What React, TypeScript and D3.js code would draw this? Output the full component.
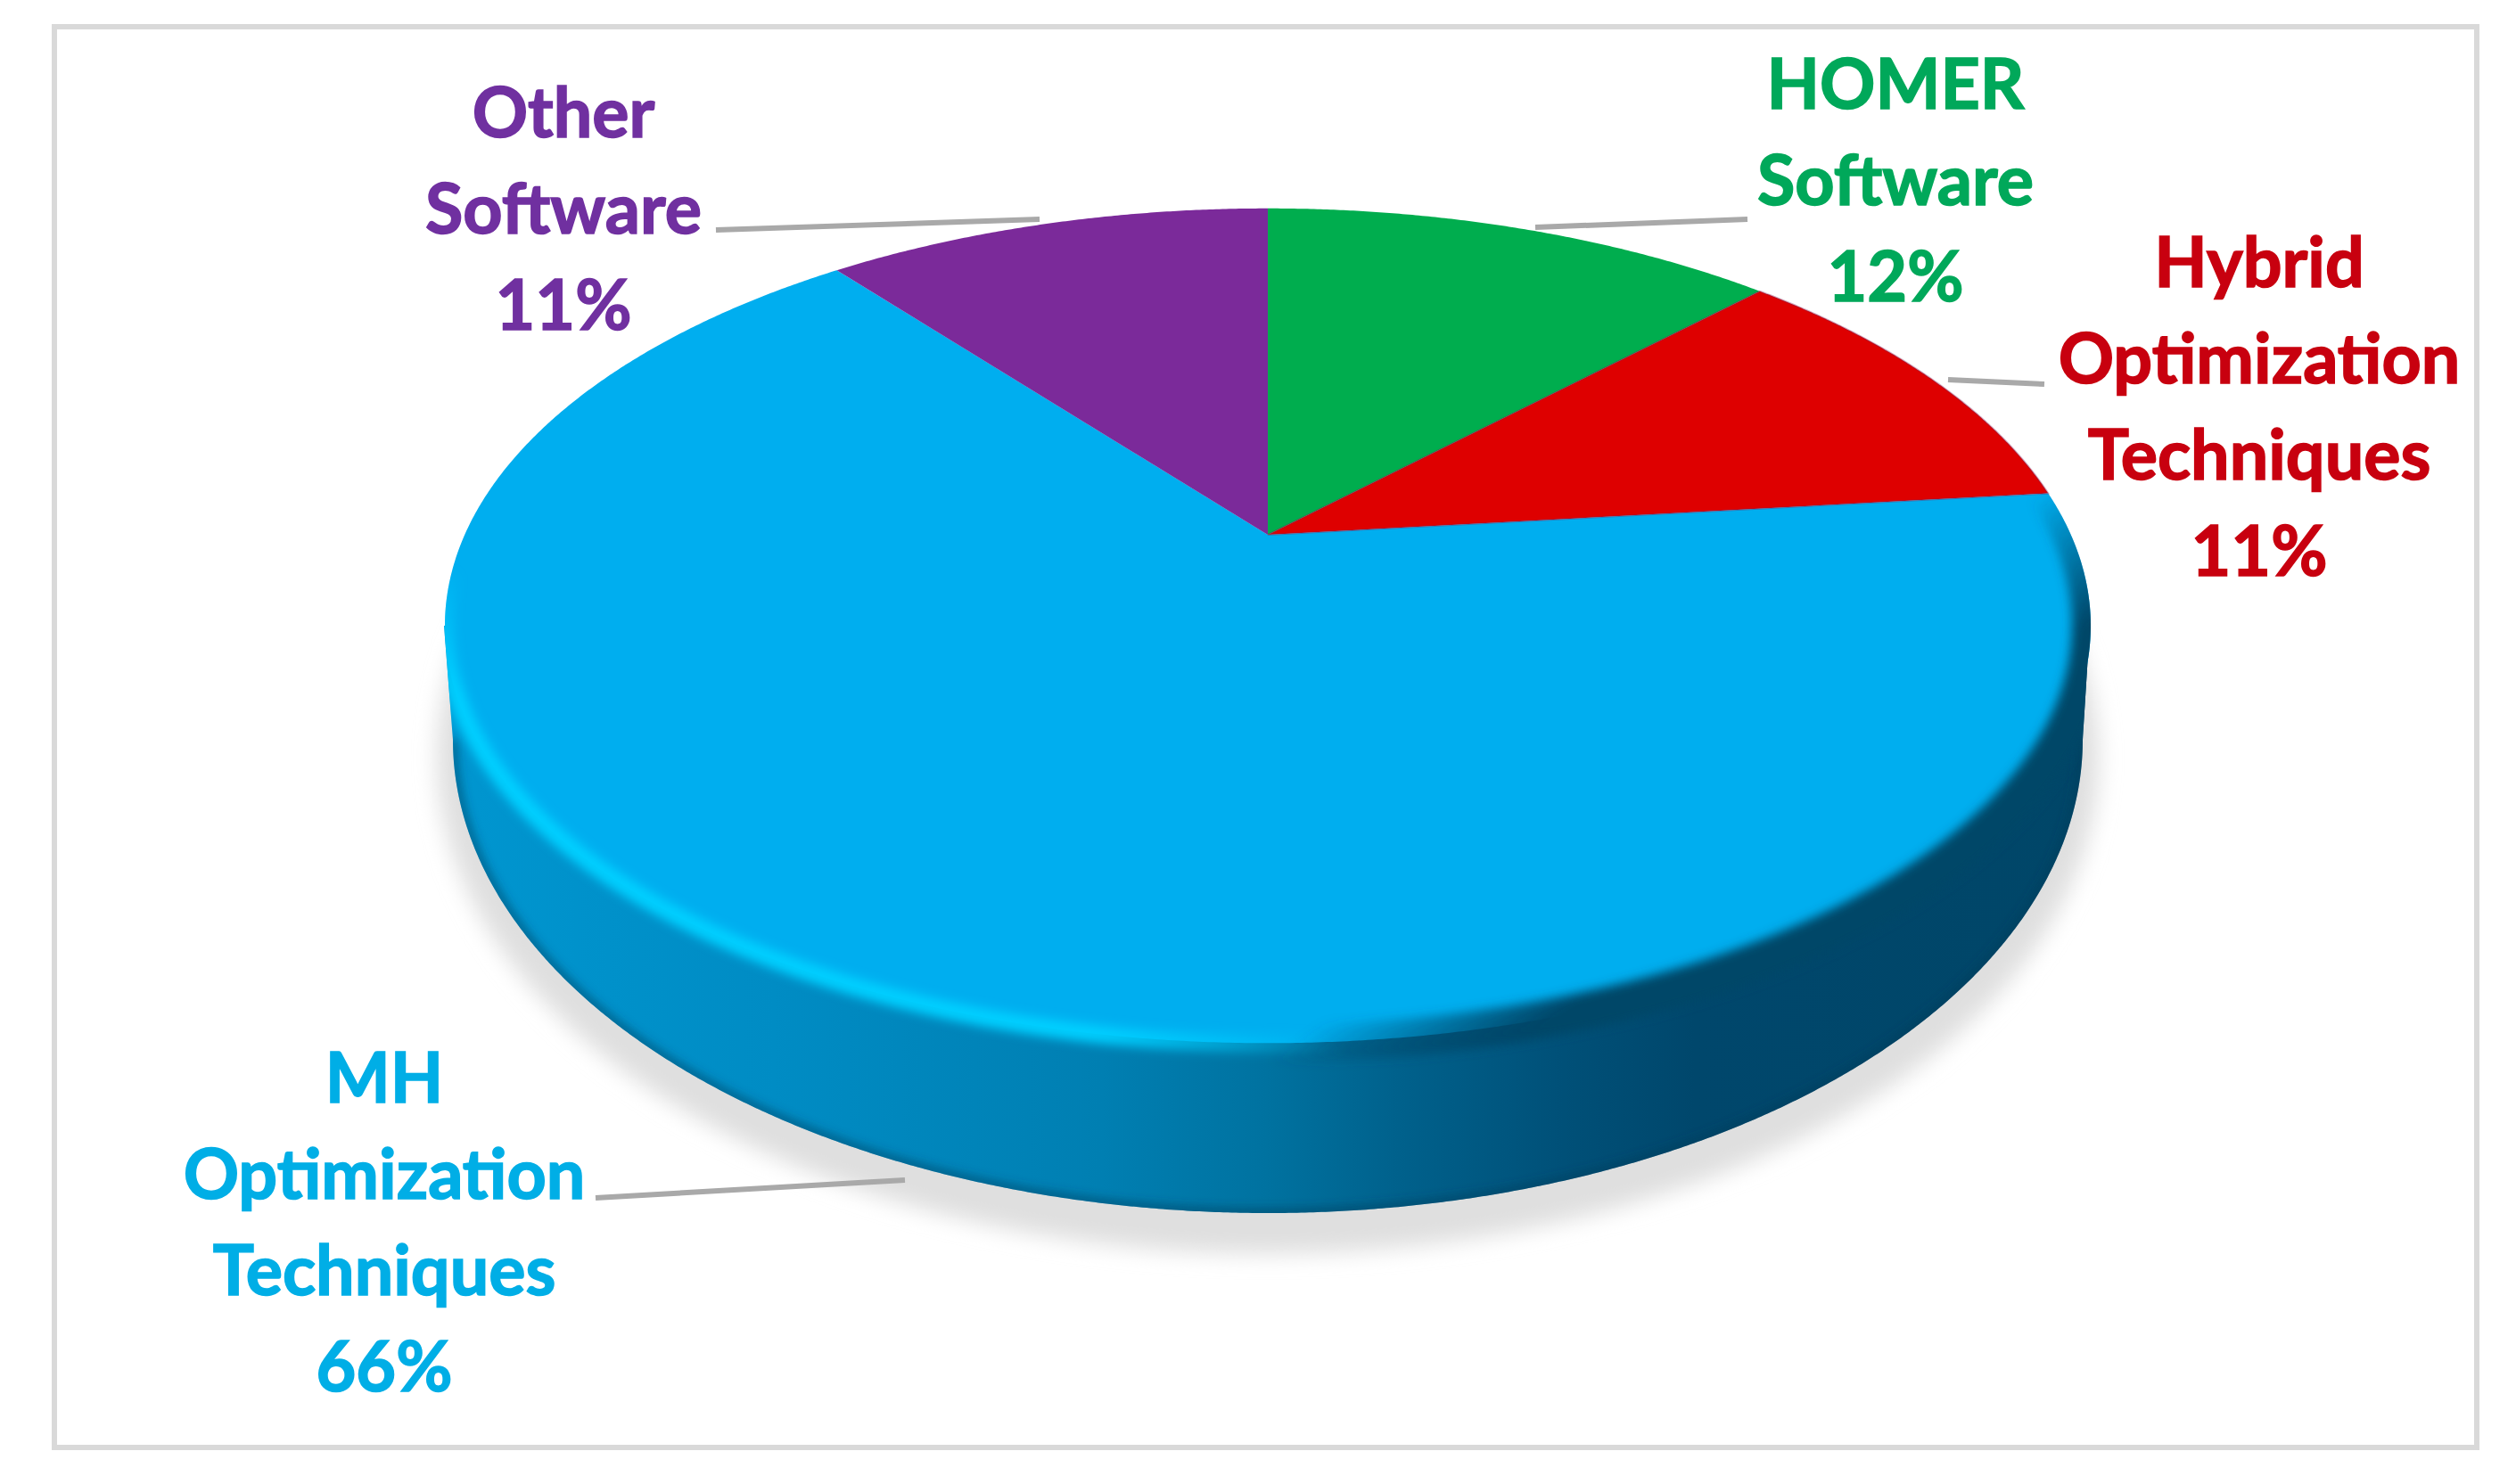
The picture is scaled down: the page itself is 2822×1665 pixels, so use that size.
import React from "react";
import * as d3 from "d3";

// ---- data ----
const categories = ["HOMER Software", "Hybrid Optimization Techniques", "MH Optimization Techniques", "Other Software"];
const shares = [12.5, 10.8, 65.9, 10.8];
const sliceColors = ["#00AD4E", "#DE0000", "#00AEEF", "#7B2A9A"];
const labelColors = ["#00A85A", "#C8000F", "#00AEE6", "#7030A0"];
const labelLines = [
  ["HOMER", "Software", "12%"],
  ["Hybrid", "Optimization", "Techniques", "11%"],
  ["MH", "Optimization", "Techniques", "66%"],
  ["Other", "Software", "11%"],
];

// ---- layout ----
const W = 2822, H = 1665;
const apex = { x: 1422, y: 600 };
const K = 0.218, A = 900.8, B = 446;
const bottom = { cy: 830, rx: 914, ry: 531 };
const labelPos = [
  { x: 2126, y: 122 },
  { x: 2534, y: 322 },
  { x: 431, y: 1237 },
  { x: 632, y: 154 },
];
const lineGap = 108;
const leaders = [
  [[1722, 255], [1960, 246]],
  [[2185, 426], [2293, 431]],
  [[1015, 1324], [668, 1344]],
  [[1166, 246], [803, 258]],
];
const FONT_SIZE = 78, TEXT_SX = 0.99;

const project = (a: number): [number, number] => {
  const u = Math.sin(a), v = Math.cos(a), w = 1 + K * v;
  return [apex.x + (A * u) / w, apex.y - (B * v) / w];
};
const samples = (a0: number, a1: number) => d3.range(a0, a1, 0.005).concat([a1]);
const line = d3.line();

const pie = d3.pie<number>().sort(null).value((d) => d);
const arcs = pie(shares);
const slicePath = (s: number, e: number) =>
  line([[apex.x, apex.y], ...samples(s, e).map(project)])! + "Z";
const rimPath = line(samples(0, 2 * Math.PI).map(project))! + "Z";

const bottomPoint = (t: number): [number, number] => [
  apex.x + bottom.rx * Math.cos(t),
  bottom.cy + bottom.ry * Math.sin(t),
];
const bottomArc = d3.range(0, Math.PI, 0.005).map(bottomPoint).concat([bottomPoint(Math.PI)]);
const bodyPath = line([[2344, 702], ...bottomArc, [498, 702]])! + "Z";
const bottomEdge = line(bottomArc)!;

const sideStops = [
  [0.0, "#0096D0"],
  [0.2, "#008CC4"],
  [0.4, "#007FB2"],
  [0.5, "#0072A0"],
  [0.58, "#00618C"],
  [0.68, "#005078"],
  [0.76, "#00476C"],
  [1, "#004668"],
];

export default function App() {
  return (
    <svg width={W} height={H} viewBox={`0 0 ${W} ${H}`}
      style={{ position: "absolute", left: 0, top: 0, display: "block", background: "#fff" }}>
      <defs>
        <linearGradient id="side" gradientUnits="userSpaceOnUse" x1={498} y1={0} x2={2344} y2={0}>
          {sideStops.map(([o, c]) => <stop key={o as number} offset={o as number} stopColor={c as string} />)}
        </linearGradient>
        <linearGradient id="hi" gradientUnits="userSpaceOnUse" x1={505} y1={636} x2={448} y2={742}>
          <stop offset={0} stopColor="#00CFFF" stopOpacity={0} />
          <stop offset={1} stopColor="#00CFFF" stopOpacity={1} />
        </linearGradient>
        <linearGradient id="dk" gradientUnits="userSpaceOnUse" x1={1450} y1={1170} x2={1539} y2={1291}>
          <stop offset={0} stopColor="#004668" stopOpacity={0} />
          <stop offset={1} stopColor="#004668" stopOpacity={1} />
        </linearGradient>
        <filter id="b4" x="-10%" y="-10%" width="120%" height="120%"><feGaussianBlur stdDeviation={6} /></filter>
        <filter id="b14" x="-10%" y="-10%" width="120%" height="120%"><feGaussianBlur stdDeviation={12} /></filter>
        <clipPath id="bodyClip"><path d={bodyPath} /></clipPath>
        <clipPath id="solidClip"><path d={bodyPath} /><path d={rimPath} /></clipPath>
      </defs>

      <rect x={61} y={30} width={2717} height={1594} fill="#fff" stroke="#D9D9D9" strokeWidth={6} />

      <ellipse cx={apex.x} cy={bottom.cy + 20} rx={bottom.rx + 18} ry={bottom.ry + 26} fill="#DFDFDF" filter="url(#b14)" />
      <path d={bodyPath} fill="url(#side)" />
      <g clipPath="url(#bodyClip)">
        <path d={bottomEdge} fill="none" stroke="#003A58" strokeOpacity={0.7} strokeWidth={8} filter="url(#b4)" />
      </g>

      {arcs.map((a, i) => (
        <path key={categories[i]} d={slicePath(a.startAngle, a.endAngle)} fill={sliceColors[i]} />
      ))}
      <path d={slicePath(arcs[1].startAngle, arcs[1].endAngle)} fill="none" stroke="#7A1E55" strokeOpacity={0.35} strokeWidth={2} />
      <g clipPath="url(#solidClip)">
        <path d={rimPath} fill="none" stroke="url(#dk)" strokeWidth={42} filter="url(#b4)" />
        <path d={rimPath} fill="none" stroke="url(#hi)" strokeWidth={20} filter="url(#b4)" />
      </g>

      {leaders.map((l, i) => (
        <line key={i} x1={l[0][0]} y1={l[0][1]} x2={l[1][0]} y2={l[1][1]} stroke="#A9A9A9" strokeWidth={6} />
      ))}

      {labelLines.map((lines, i) =>
        lines.map((t, j) => (
          <text key={i + "-" + j}
            transform={`translate(${labelPos[i].x},${labelPos[i].y + j * lineGap}) scale(${TEXT_SX},1)`}
            textAnchor="middle" fontFamily="Lato, 'Open Sans', sans-serif" fontWeight={700}
            fontSize={FONT_SIZE} fill={labelColors[i]} stroke={labelColors[i]} strokeWidth={1.6}>{t}</text>
        ))
      )}
    </svg>
  );
}
